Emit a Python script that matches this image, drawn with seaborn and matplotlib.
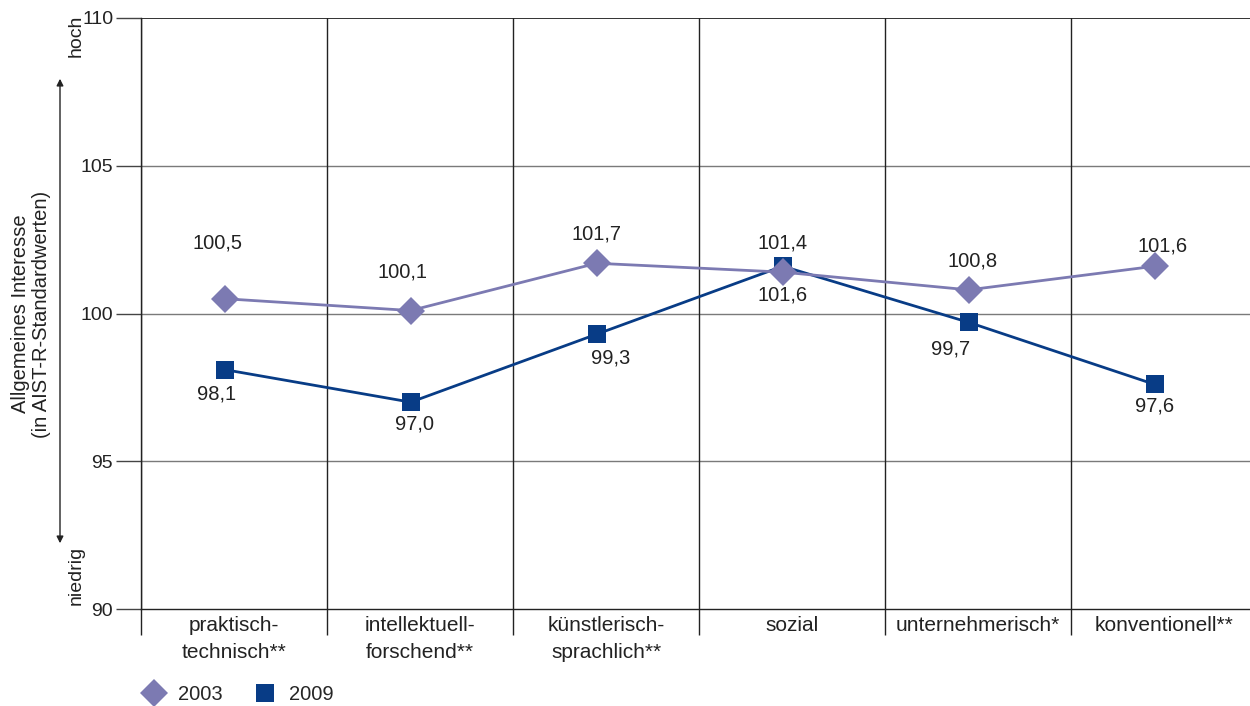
import matplotlib
matplotlib.use("Agg")
import matplotlib.pyplot as plt
import seaborn as sns
import pandas as pd
from matplotlib.lines import Line2D

categories = ["praktisch-\ntechnisch**", "intellektuell-\nforschend**", "künstlerisch-\nsprachlich**",
              "sozial", "unternehmerisch*", "konventionell**"]
values_2003 = [100.5, 100.1, 101.7, 101.4, 100.8, 101.6]
values_2009 = [98.1, 97.0, 99.3, 101.6, 99.7, 97.6]
labels_2003 = ["100,5", "100,1", "101,7", "101,4", "100,8", "101,6"]
labels_2009 = ["98,1", "97,0", "99,3", "101,6", "99,7", "97,6"]
yticks = [90, 95, 100, 105, 110]

c2003 = "#7c7ab2"
c2009 = "#083c86"

sns.set_theme(style="white")
plt.rcParams["font.family"] = ["Liberation Sans", "DejaVu Sans"]

fig = plt.figure(figsize=(12.5, 7.06), dpi=100)
ax = fig.add_axes([141/1250, 1-609/706, (1257-141)/1250, (609-18)/706])

df = pd.DataFrame({
    "x": list(range(len(categories))) * 2,
    "y": values_2003 + values_2009,
    "Jahr": ["2003"] * len(categories) + ["2009"] * len(categories),
})

sns.lineplot(data=df[df.Jahr == "2003"], x="x", y="y", ax=ax, color=c2003, lw=2,
             marker="D", markersize=14, markeredgewidth=0, zorder=4)
sns.lineplot(data=df[df.Jahr == "2009"], x="x", y="y", ax=ax, color=c2009, lw=2,
             marker="s", markersize=13, markeredgewidth=0, zorder=3)

shift = 0.45
ax.set_xlim(-shift, len(categories) - shift)
ax.set_ylim(90, 110)

# grid lines
for yv in [95, 100, 105]:
    ax.axhline(yv, color="#7a7a7a", lw=1, zorder=1)
ax.axhline(110, color="#222222", lw=1.3, zorder=1)
for i in range(len(categories)):
    ax.axvline(i - shift, color="#222222", lw=1, zorder=1)

for s in ["top", "right"]:
    ax.spines[s].set_visible(False)
ax.spines["left"].set_color("#222222")
ax.spines["bottom"].set_color("#222222")
ax.spines["left"].set_linewidth(1)
ax.spines["bottom"].set_linewidth(1)

ax.set_yticks(yticks)
ax.set_yticklabels([str(v) for v in yticks], fontsize=14, color="#222222")
ax.tick_params(axis="y", length=18, width=1, color="#444444", pad=2, left=True)

ax.set_xticks([i - shift for i in range(len(categories))], minor=False)
ax.set_xticklabels([])
ax.tick_params(axis="x", length=19, width=1, color="#222222", bottom=True)
for i, c in enumerate(categories):
    ax.text(i + 0.5 - shift, -0.012, c, transform=ax.get_xaxis_transform(), ha="center", va="top",
            fontsize=15, color="#222222", linespacing=1.5)
ax.set_xlabel("")
ax.set_ylabel("")

off2003 = [(-5, 33), (-6, 21), (0, 14), (0, 14), (3, 14), (6, 8)]
off2009 = [(-6, -11), (3, -9), (10, -10), (0, -14), (-13, -12), (0, -9)]
for i, (v, l) in enumerate(zip(values_2003, labels_2003)):
    ax.annotate(l, (i, v), xytext=off2003[i], textcoords="offset points",
                ha="center", va="bottom", fontsize=14.5, color="#222222", zorder=6)
for i, (v, l) in enumerate(zip(values_2009, labels_2009)):
    ax.annotate(l, (i, v), xytext=off2009[i], textcoords="offset points",
                ha="center", va="top", fontsize=14.5, color="#222222", zorder=6)

# y-axis description
fig.text(31/1250, 1-314/706, "Allgemeines Interesse\n(in AIST-R-Standardwerten)", rotation=90,
         ha="center", va="center", fontsize=14.5, color="#222222", linespacing=1.15)
fig.text(76/1250, 1-36/706, "hoch", rotation=90, ha="center", va="center", fontsize=14, color="#222222")
fig.text(76/1250, 1-575/706, "niedrig", rotation=90, ha="center", va="center", fontsize=14, color="#222222")
fig.add_artist(matplotlib.patches.FancyArrowPatch((60/1250, 1-76/706), (60/1250, 1-546/706),
               transform=fig.transFigure, arrowstyle="<|-|>", mutation_scale=10, color="#222222", lw=1))

handles = [Line2D([], [], color=c2003, marker="D", markersize=14, lw=0, markeredgewidth=0),
           Line2D([], [], color=c2009, marker="s", markersize=13, lw=0, markeredgewidth=0)]
fig.legend(handles, ["2003", "2009"], loc="center left", bbox_to_anchor=(121/1250, 1-695/706),
           ncol=2, frameon=False, fontsize=14.5, handletextpad=0.45, columnspacing=1.35,
           handlelength=1.5)

fig.savefig("out.png", dpi=100)
